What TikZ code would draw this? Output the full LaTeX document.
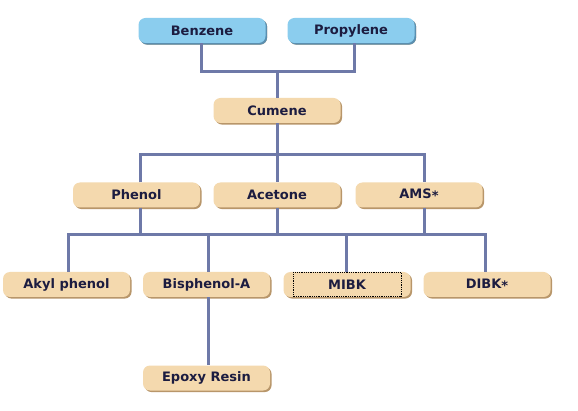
\documentclass[tikz,border=0pt]{standalone}
\usepackage{fontspec}
\setmainfont{DejaVu Sans}
\usetikzlibrary{shadows}
\definecolor{tanfill}{HTML}{F4D9AE}
\definecolor{tanshadow}{HTML}{B8966A}
\definecolor{bluefill}{HTML}{8BCDEE}
\definecolor{blueshadow}{HTML}{5A8FB0}
\definecolor{linkcol}{HTML}{6E79A8}
\definecolor{txtcol}{HTML}{1C1C40}
\newcommand{\midast}{\raisebox{-0.3ex}{*}}
\tikzset{
  box/.style={rounded corners=7pt, minimum width=127pt, minimum height=25pt,
    inner sep=0pt, fill=tanfill, text=txtcol,
    font=\fontsize{13pt}{15pt}\selectfont\bfseries,
    drop shadow={shadow xshift=1.6pt, shadow yshift=-1.6pt, fill=tanshadow, opacity=1}},
  bluebox/.style={box, fill=bluefill,
    drop shadow={shadow xshift=1.6pt, shadow yshift=-1.6pt, fill=blueshadow, opacity=1}},
  link/.style={draw=linkcol, line width=3pt}
}
\begin{document}
\begin{tikzpicture}[x=1pt,y=-1pt]
\useasboundingbox[fill=white] (0,0) rectangle (578,411);
% nodes
\node[bluebox] (benz) at (202,30.5) {Benzene};
\node[bluebox] (prop) at (351,30.5) {Propylene};
\node[box] (cum) at (277,110.5) {Cumene};
\node[box] (phen) at (136.5,195) {Phenol};
\node[box] (acet) at (277,195) {Acetone};
\node[box] (ams) at (419,195) {AMS\midast};
\node[box] (akyl) at (66.5,284.5) {Akyl phenol};
\node[box] (bis) at (206.5,284.5) {Bisphenol-A};
\node[box] (mibk) at (347,284.5) {MIBK};
\node[box] (dibk) at (487,284.5) {DIBK\midast};
\node[box] (epoxy) at (206.5,378) {Epoxy Resin};
\draw[densely dotted, line width=0.8pt] (293,272.5) rectangle (401,296.5);
% junction coordinates
\coordinate (j1) at (277,72);
\coordinate (j2) at (277,155);
\coordinate (j3) at (140,235);
% connectors
\draw[link] ([xshift=-1pt]benz.south) |- (j1) -| ([xshift=3pt]prop.south);
\draw[link] (j1) -- (cum.north);
\draw[link] (cum.south) -- (j2);
\draw[link] ([xshift=3.5pt]phen.north) |- (j2) -| ([xshift=5pt]ams.north);
\draw[link] (j2) -- (acet.north);
\draw[link] ([xshift=3.5pt]phen.south) -- (j3);
\draw[link] ([xshift=1.5pt]akyl.north) |- (j3) -| ([xshift=-2pt]dibk.north);
\draw[link] (acet.south) -- (acet.south |- j3);
\draw[link] ([xshift=5pt]ams.south) -- ([xshift=5pt]ams.south |- j3);
\draw[link] ([xshift=1.5pt]bis.north) -- ([xshift=1.5pt]bis.north |- j3);
\draw[link] ([xshift=-1pt]mibk.north) -- ([xshift=-1pt]mibk.north |- j3);
\draw[link] ([xshift=1.5pt]bis.south) -- ([xshift=1.5pt]epoxy.north);
\end{tikzpicture}
\end{document}
